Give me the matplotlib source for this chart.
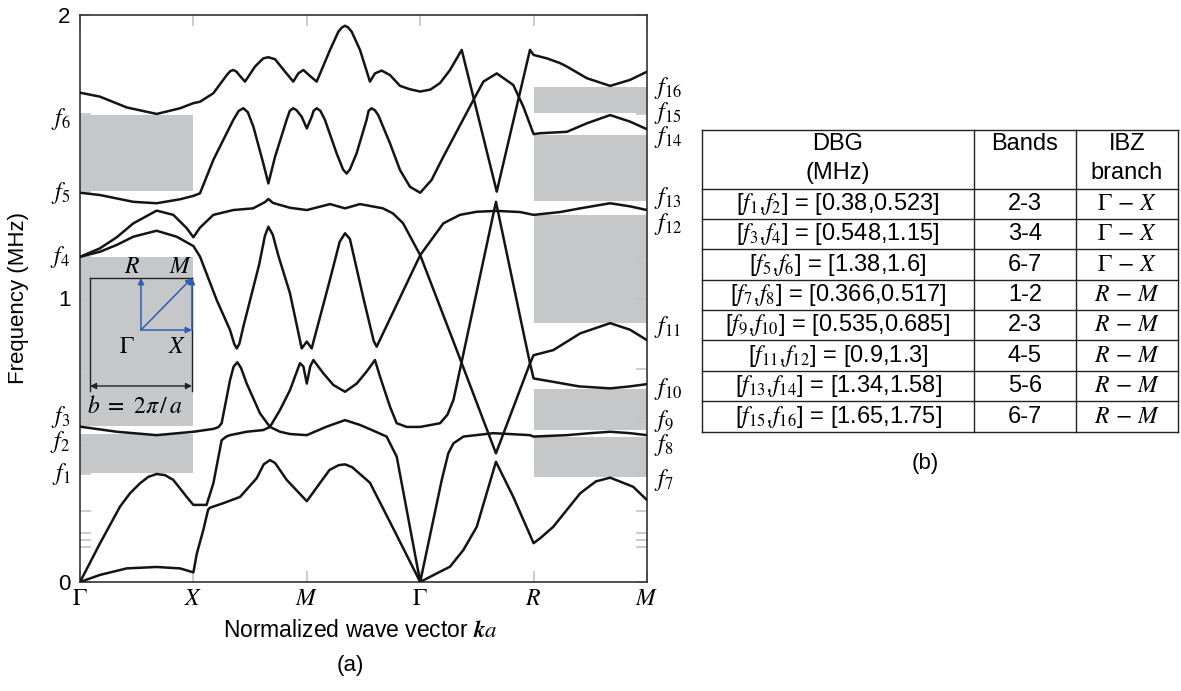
import numpy as np
import matplotlib.pyplot as plt

plt.rcParams['font.family'] = ['Liberation Sans', 'DejaVu Sans']
plt.rcParams['mathtext.fontset'] = 'stix'

# k-path: Gamma=0, X=1, M=2, Gamma=3, R=4, M=5
k_ticks = [0, 1, 2, 3, 4, 5]
k_labels = [r'$\Gamma$', r'$X$', r'$M$', r'$\Gamma$', r'$R$', r'$M$']

# dispersion curves (k position, frequency in MHz)
band1_k = [0, 0.176, 0.412, 0.676, 0.882, 1.0, 1.03, 1.087, 1.13, 1.146, 1.264, 1.411, 1.558, 1.62, 1.675, 1.72,
           1.823, 2.0, 2.116, 2.2, 2.28, 2.337, 2.40, 2.557, 2.78, 3.0, 3.144, 3.263, 3.381, 3.499, 3.668, 3.821,
           4.0, 4.06, 4.174, 4.411, 4.55, 4.675, 4.878, 5.0]
band1_f = [0, 0.025, 0.048, 0.053, 0.048, 0.034, 0.10, 0.183, 0.255, 0.262, 0.278, 0.30, 0.366, 0.415, 0.43, 0.42,
           0.36, 0.285, 0.349, 0.395, 0.412, 0.415, 0.405, 0.35, 0.175, 0.0, 0.03, 0.054, 0.113, 0.195, 0.424, 0.30,
           0.137, 0.155, 0.195, 0.313, 0.355, 0.368, 0.336, 0.289]

band2_k = [0, 0.176, 0.353, 0.441, 0.529, 0.603, 0.676, 0.75, 0.823, 0.941, 1.0, 1.116, 1.176, 1.249, 1.29, 1.323,
           1.47, 1.616, 1.675, 1.764, 1.852, 1.91, 1.94, 1.97, 2.0, 2.03, 2.058, 2.146, 2.234, 2.337, 2.44, 2.527,
           2.601, 2.646, 2.734, 2.793, 2.881, 3.0, 3.175, 3.24, 3.293, 3.366, 3.668, 3.924, 3.968, 4.0, 4.174, 4.4,
           4.675, 4.85, 5.0]
band2_f = [0, 0.136, 0.266, 0.313, 0.348, 0.371, 0.381, 0.377, 0.36, 0.30, 0.272, 0.272, 0.348, 0.50, 0.513, 0.518,
           0.53, 0.536, 0.547, 0.607, 0.677, 0.74, 0.772, 0.76, 0.70, 0.76, 0.783, 0.736, 0.695, 0.671, 0.70, 0.742,
           0.783, 0.724, 0.618, 0.56, 0.547, 0.547, 0.56, 0.59, 0.642, 0.777, 1.341, 0.854, 0.772, 0.718, 0.706, 0.69,
           0.683, 0.69, 0.698]

band3_k = [0, 0.324, 0.676, 1.0, 1.176, 1.22, 1.249, 1.323, 1.355, 1.388, 1.42, 1.47, 1.587, 1.675, 1.764, 1.85,
           2.0, 2.175, 2.337, 2.469, 2.557, 2.704, 2.793, 3.0, 3.19, 3.248, 3.293, 3.381, 3.645, 3.968, 4.0, 4.294,
           4.5, 4.675, 4.85, 5.0]
band3_f = [0.548, 0.53, 0.518, 0.53, 0.54, 0.546, 0.56, 0.712, 0.76, 0.775, 0.755, 0.70, 0.595, 0.547, 0.53, 0.522,
           0.518, 0.548, 0.571, 0.554, 0.539, 0.513, 0.442, 0.0, 0.36, 0.454, 0.489, 0.513, 0.525, 0.518, 0.513, 0.518,
           0.525, 0.53, 0.525, 0.518]

band4_k = [0, 0.176, 0.324, 0.470, 0.676, 0.852, 1.0, 1.058, 1.205, 1.323, 1.36, 1.382, 1.405, 1.44, 1.58, 1.63,
           1.661, 1.70, 1.75, 1.852, 1.955, 2.0, 2.043, 2.2, 2.29, 2.337, 2.38, 2.5, 2.59, 2.616, 2.64, 3.0, 3.204,
           3.35, 3.499, 3.675, 3.88, 4.0, 4.235, 4.411, 4.675, 4.85, 5.0]
band4_f = [1.147, 1.165, 1.189, 1.218, 1.239, 1.218, 1.185, 1.148, 0.995, 0.889, 0.84, 0.824, 0.84, 0.90, 1.12, 1.22,
           1.253, 1.225, 1.15, 1.018, 0.824, 0.848, 0.824, 1.06, 1.2, 1.23, 1.21, 1.0, 0.85, 0.83, 0.85, 1.153, 1.265,
           1.295, 1.306, 1.309, 1.305, 1.295, 1.305, 1.318, 1.336, 1.325, 1.312]

band5_k = [0, 0.176, 0.324, 0.470, 0.676, 0.823, 0.941, 1.0, 1.058, 1.176, 1.352, 1.526, 1.631, 1.661, 1.702, 1.852,
           2.0, 2.205, 2.337, 2.469, 2.672, 2.76, 2.848, 3.0, 3.322, 3.668, 3.968, 4.0, 4.174, 4.411, 4.675, 4.85, 5.0]
band5_f = [1.147, 1.177, 1.216, 1.265, 1.31, 1.295, 1.248, 1.216, 1.25, 1.295, 1.312, 1.318, 1.34, 1.351, 1.337, 1.32,
           1.312, 1.333, 1.318, 1.333, 1.318, 1.30, 1.266, 1.153, 0.818, 0.454, 0.771, 0.80, 0.818, 0.877, 0.913, 0.89,
           0.853]

band6_k = [0, 0.176, 0.470, 0.676, 0.882, 1.0, 1.058, 1.176, 1.352, 1.40, 1.44, 1.48, 1.529, 1.616, 1.661, 1.72,
           1.822, 1.85, 1.881, 1.91, 1.955, 2.0, 2.043, 2.06, 2.087, 2.12, 2.16, 2.263, 2.32, 2.351, 2.38, 2.439,
           2.527, 2.545, 2.571, 2.60, 2.63, 2.734, 2.822, 2.91, 3.0, 3.10, 3.204, 3.469, 3.557, 3.675, 3.821, 3.909,
           4.0, 4.059, 4.294, 4.47, 4.675, 4.85, 5.0]
band6_f = [1.373, 1.365, 1.341, 1.336, 1.35, 1.362, 1.371, 1.489, 1.63, 1.662, 1.671, 1.657, 1.606, 1.477, 1.406,
           1.50, 1.63, 1.662, 1.671, 1.664, 1.641, 1.60, 1.641, 1.662, 1.671, 1.662, 1.63, 1.512, 1.455, 1.441, 1.455,
           1.512, 1.63, 1.662, 1.671, 1.664, 1.647, 1.547, 1.453, 1.394, 1.373, 1.418, 1.50, 1.70, 1.765, 1.794, 1.753,
           1.677, 1.58, 1.583, 1.588, 1.618, 1.647, 1.624, 1.597]

band7_k = [0, 0.176, 0.412, 0.676, 0.882, 1.0, 1.058, 1.176, 1.294, 1.325, 1.352, 1.38, 1.411, 1.455, 1.543, 1.616,
           1.661, 1.72, 1.808, 1.881, 1.925, 1.970, 2.028, 2.087, 2.205, 2.278, 2.31, 2.337, 2.365, 2.396, 2.469, 2.557,
           2.601, 2.66, 2.734, 2.822, 2.91, 3.0, 3.09, 3.175, 3.263, 3.366, 3.675, 3.968, 4.0, 4.118, 4.235, 4.294,
           4.47, 4.675, 4.85, 5.0]
band7_f = [1.726, 1.712, 1.674, 1.651, 1.671, 1.689, 1.694, 1.724, 1.788, 1.802, 1.806, 1.80, 1.785, 1.765, 1.818,
           1.847, 1.851, 1.844, 1.80, 1.765, 1.794, 1.806, 1.785, 1.765, 1.877, 1.941, 1.956, 1.962, 1.956, 1.941, 1.877,
           1.765, 1.794, 1.804, 1.788, 1.75, 1.738, 1.73, 1.737, 1.76, 1.806, 1.877, 1.377, 1.877, 1.859, 1.847, 1.83,
           1.818, 1.777, 1.75, 1.771, 1.80]

bands = [(band1_k, band1_f), (band2_k, band2_f), (band3_k, band3_f), (band4_k, band4_f),
         (band5_k, band5_f), (band6_k, band6_f), (band7_k, band7_f)]

# band gaps as drawn (grey boxes)
gaps_gx = [(0.383, 0.521), (0.551, 1.147), (1.38, 1.647)]
gaps_rm = [(0.369, 0.513), (0.536, 0.68), (0.915, 1.295), (1.345, 1.577), (1.653, 1.745)]

left_names = [r'$f_1$', r'$f_2$', r'$f_3$', r'$f_4$', r'$f_5$', r'$f_6$']
left_pos = [0.381, 0.495, 0.582, 1.146, 1.372, 1.633]
right_names = [r'$f_7$', r'$f_8$', r'$f_9$', r'$f_{10}$', r'$f_{11}$', r'$f_{12}$', r'$f_{13}$', r'$f_{14}$',
               r'$f_{15}$', r'$f_{16}$']
right_pos = [0.36, 0.482, 0.568, 0.681, 0.90, 1.262, 1.356, 1.57, 1.655, 1.743]

minor_ticks = [0.123, 0.148, 0.173, 0.25, 0.38, 0.5, 0.578, 0.75, 1.146, 1.376, 1.65]

# table (b)
tbl_dbg = [r'[$f_1$,$f_2$] = [0.38,0.523]', r'[$f_3$,$f_4$] = [0.548,1.15]', r'[$f_5$,$f_6$] = [1.38,1.6]',
           r'[$f_7$,$f_8$] = [0.366,0.517]', r'[$f_9$,$f_{10}$] = [0.535,0.685]', r'[$f_{11}$,$f_{12}$] = [0.9,1.3]',
           r'[$f_{13}$,$f_{14}$] = [1.34,1.58]', r'[$f_{15}$,$f_{16}$] = [1.65,1.75]']
tbl_bands = ['2-3', '3-4', '6-7', '1-2', '2-3', '4-5', '5-6', '6-7']
tbl_ibz = [r'$\Gamma\,-\,X$'] * 3 + [r'$R\,-\,M$'] * 5

grey = '#c6c7c9'
blue = '#2f5fb5'

fig = plt.figure(figsize=(11.81, 6.91), dpi=100)
ax = fig.add_axes([80 / 1181, 1 - 582 / 691, 567 / 1181, 567 / 691])

for lo, hi in gaps_gx:
    ax.fill_between([0, 1], lo, hi, color=grey, lw=0, zorder=0)
for lo, hi in gaps_rm:
    ax.fill_between([4, 5], lo, hi, color=grey, lw=0, zorder=0)

for k, f in bands:
    ax.plot(k, f, color='#141414', lw=1.8, solid_joinstyle='round', zorder=3)

ax.set_xlim(0, 5)
ax.set_ylim(0, 2)
ax.set_xticks(k_ticks)
ax.set_xticklabels(k_labels, fontsize=17)
ax.set_yticks([0, 1, 2])
ax.set_yticklabels(['0', '1', '2'], fontsize=16)
ax.set_yticks(minor_ticks, minor=True)
ax.tick_params(which='both', direction='in', length=8, width=1.2, color='#c4c4c4',
               top=True, right=True)
ax.tick_params(axis='y', pad=7)
ax.tick_params(axis='x', pad=4)
for s in ax.spines.values():
    s.set_color('#333333')
    s.set_linewidth(1.2)

ax.set_ylabel('Frequency (MHz)', fontsize=16)
ax.yaxis.set_label_coords(-0.09, 0.5)
ax.set_xlabel(r'Normalized wave vector $\boldsymbol{k}a$', fontsize=16.5)
ax.xaxis.set_label_coords(0.494, -0.066)

for name, y in zip(left_names, left_pos):
    ax.text(-0.017, y, name, transform=ax.get_yaxis_transform(), ha='right', va='center', fontsize=17)
for name, y in zip(right_names, right_pos):
    ax.text(1.012, y, name, transform=ax.get_yaxis_transform(), ha='left', va='center', fontsize=17)

# overlay in pixel coordinates for the inset and the table
ov = fig.add_axes([0, 0, 1, 1])
ov.set_xlim(0, 1181)
ov.set_ylim(691, 0)
ov.axis('off')
ov.set_zorder(5)

# Brillouin zone inset
ov.plot([90, 192], [278, 278], color='#222222', lw=1.0)
ov.plot([90, 90], [278, 391], color='#222222', lw=1.0)
ov.plot([192, 192], [278, 391], color='#222222', lw=1.0)
ov.annotate('', xy=(192, 386), xytext=(90, 386),
            arrowprops=dict(arrowstyle='<|-|>', color='#222222', lw=1.0, mutation_scale=9,
                            shrinkA=0, shrinkB=0))
ov.text(135, 407, r'$b\ =\ 2\pi\,/\,a$', ha='center', va='center', fontsize=17)
gam, xp, mp, rp = (141, 330), (192, 330), (192, 278), (141, 278)
for a, b in [(gam, xp), (xp, mp), (gam, mp), (gam, rp)]:
    ov.annotate('', xy=b, xytext=a,
                arrowprops=dict(arrowstyle='-|>', color=blue, lw=1.1, mutation_scale=9,
                                shrinkA=0, shrinkB=0))
ov.text(132, 267, r'$R$', ha='center', va='center', fontsize=17)
ov.text(181, 267, r'$M$', ha='center', va='center', fontsize=17)
ov.text(127, 347, r'$\Gamma$', ha='center', va='center', fontsize=17)
ov.text(177, 347, r'$X$', ha='center', va='center', fontsize=17)

ov.text(350, 665, '(a)', ha='center', va='center', fontsize=16)

# table (b)
tx = [702, 974, 1076, 1178]
ty = [130, 189, 219, 249, 280, 310, 340, 371, 401, 432]
for y in ty:
    ov.plot([tx[0], tx[-1]], [y, y], color='#222222', lw=1.0)
for x in tx:
    ov.plot([x, x], [ty[0], ty[-1]], color='#222222', lw=1.0)
cx = [(tx[0] + tx[1]) / 2, (tx[1] + tx[2]) / 2, (tx[2] + tx[3]) / 2]
ov.text(cx[0], 144, 'DBG', ha='center', va='center', fontsize=17)
ov.text(cx[0], 173, '(MHz)', ha='center', va='center', fontsize=17)
ov.text(cx[1], 144, 'Bands', ha='center', va='center', fontsize=17)
ov.text(cx[2], 144, 'IBZ', ha='center', va='center', fontsize=17)
ov.text(cx[2], 173, 'branch', ha='center', va='center', fontsize=17)
for i in range(len(tbl_dbg)):
    yc = (ty[i + 1] + ty[i + 2]) / 2
    ov.text(cx[0], yc, tbl_dbg[i], ha='center', va='center', fontsize=17)
    ov.text(cx[1], yc, tbl_bands[i], ha='center', va='center', fontsize=17)
    ov.text(cx[2], yc, tbl_ibz[i], ha='center', va='center', fontsize=17)
ov.text(925, 463, '(b)', ha='center', va='center', fontsize=16)

fig.savefig('out.png', dpi=100)
